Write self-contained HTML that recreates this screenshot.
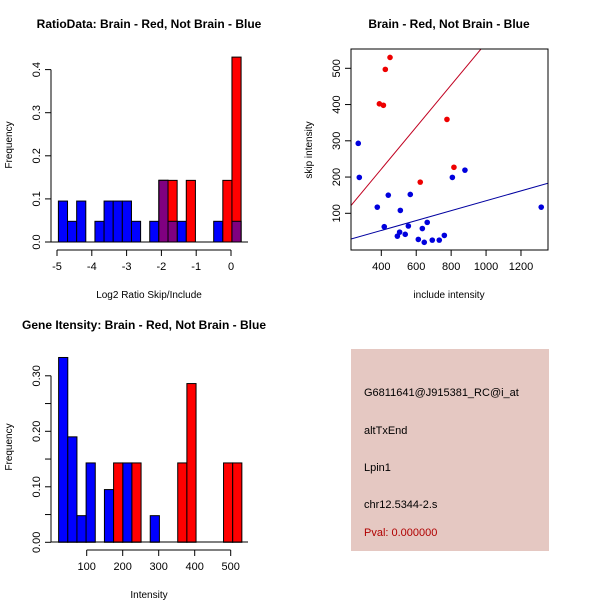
<!DOCTYPE html>
<html><head><meta charset="utf-8"><style>
html,body{margin:0;padding:0;background:#fff;}
svg{display:block;font-family:"Liberation Sans",sans-serif;}
</style></head><body>
<svg id="s" width="600" height="600" xmlns="http://www.w3.org/2000/svg">
<rect width="600" height="600" fill="#fff"/>
<g id="p1"></g>
<g id="p2"></g>
<g id="p3"></g>
<g id="p4">
<rect x="351" y="349" width="198" height="202" fill="#e5c8c2"/>
<text x="364" y="396" font-size="11">G6811641@J915381_RC@i_at</text>
<text x="364" y="434" font-size="11">altTxEnd</text>
<text x="364" y="471" font-size="11">Lpin1</text>
<text x="364" y="508" font-size="11">chr12.5344-2.s</text>
<text x="364" y="536" font-size="11" fill="#b00000">Pval: 0.000000</text>
</g>
</svg>
<script>
// ---- Plot 1 data: ratio histogram ----
const ratioBinStart = -4.96;
const ratioBinWidth = 0.2625;
const ratioBlue = [0.095,0.048,0.095,0,0.048,0.095,0.095,0.095,0.048,0,0.048,0.143,0.048,0.048,0,0,0,0.048,0,0.048];
const ratioRed  = [0,0,0,0,0,0,0,0,0,0,0,0.143,0.143,0,0.143,0,0,0,0.143,0.429];
const ratioXTicks = [-5,-4,-3,-2,-1,0];
const ratioYTicks = [0,0.1,0.2,0.3,0.4];
const ratioYLabels = ["0.0","0.1","0.2","0.3","0.4"];

// ---- Plot 2 data: scatter ----
const redInclude = [450,423,389,412,776,816,623];
const redSkip    = [530,497,402,398,359,227,186];
const blueInclude = [268,274,377,440,417,509,566,555,492,505,537,612,646,635,663,692,732,761,807,879,1316];
const blueSkip    = [293,199,117,150,63,108,152,65,37,48,42,28,20,58,75,26,26,39,199,219,117];
const redFit = [-10,0.58];
const blueFit = [-2,0.1365];
const scXTicks = [400,600,800,1000,1200];
const scYTicks = [100,200,300,400,500];

// ---- Plot 3 data: intensity histogram ----
const intBinStart = 22;
const intBinWidth = 25.45;
const intBlue = [0.333,0.19,0.048,0.143,0,0.095,0,0.143,0,0,0.048,0,0,0,0,0,0,0,0,0];
const intRed  = [0,0,0,0,0,0,0.143,0,0.143,0,0,0,0,0.143,0.286,0,0,0,0.143,0.143];
const intXTicks = [100,200,300,400,500];
const intYTicks = [0,0.05,0.1,0.15,0.2,0.25,0.3];
const intYLabels = ["0.00","","0.10","","0.20","","0.30"];

const NS="http://www.w3.org/2000/svg";
function mk(parent,tag,attrs,text){const e=document.createElementNS(NS,tag);for(const k in attrs)e.setAttribute(k,attrs[k]);if(text!==undefined)e.textContent=text;parent.appendChild(e);return e;}

function axisLeft(g,x,ticks,labels,sy,fmt){
  const yb=sy(ticks[0]),yt=sy(ticks[ticks.length-1]);
  const l=mk(g,'line',{x1:x,y1:yb,x2:x,y2:yt,stroke:'#000'});
  
  
  ticks.forEach((t,i)=>{
    const y=sy(t);
    const tk=mk(g,'line',{x1:x-6,y1:y,x2:x,y2:y,stroke:'#000'});
    
    
    const lab=labels?labels[i]:String(t);
    if(lab){
      const tx=mk(g,'text',{x:x-11,y:y,'font-size':11,'text-anchor':'middle',transform:`rotate(-90 ${x-11} ${y})`},lab);
      
      
    }
  });
}
function axisBottom(g,y,ticks,sx){
  const l=mk(g,'line',{x1:sx(ticks[0]),y1:y,x2:sx(ticks[ticks.length-1]),y2:y,stroke:'#000'});
  
  
  ticks.forEach(t=>{
    const x=sx(t);
    const tk=mk(g,'line',{x1:x,y1:y,x2:x,y2:y+6,stroke:'#000'});
    
    
    const tx=mk(g,'text',{x:x,y:y+20,'font-size':11,'text-anchor':'middle'},String(t));
    
    
  });
}
function label(g,x,y,txt,name,opts){
  const a=Object.assign({x:x,y:y,'font-size':11,'text-anchor':'middle'},opts||{});
  const t=mk(g,'text',a,txt);
  
  
}
function bars(g,start,w,vals,color,sx,sy,name){
  vals.forEach((v,i)=>{
    if(v<=0)return;
    const x0=sx(start+i*w),x1=sx(start+(i+1)*w),y0=sy(0),y1=sy(v);
    const r=mk(g,'rect',{x:x0,y:y1,width:x1-x0,height:y0-y1,fill:color,stroke:'#000','stroke-width':1});
    
    
  });
}

// Plot 1
(function(){
  const g=document.getElementById('p1');
  const sx=v=>57+(v+5)*34.8, sy=v=>242-v*431;
  bars(g,ratioBinStart,ratioBinWidth,ratioBlue,'#0000ff',sx,sy,'bar-not-brain');
  bars(g,ratioBinStart,ratioBinWidth,ratioRed,'#ff0000',sx,sy,'bar-brain');
  // overlap
  ratioBlue.forEach((b,i)=>{
    const o=Math.min(b,ratioRed[i]);
    if(o<=0)return;
    const x0=sx(ratioBinStart+i*ratioBinWidth),x1=sx(ratioBinStart+(i+1)*ratioBinWidth);
    const r=mk(g,'rect',{x:x0,y:sy(o),width:x1-x0,height:sy(0)-sy(o),fill:'#800080',stroke:'#000'});
    
    
  });
  const bl=mk(g,'line',{x1:51,y1:242,x2:248,y2:242,stroke:'#000'});
  
  
  axisLeft(g,51,ratioYTicks,ratioYLabels,sy);
  axisBottom(g,250,ratioXTicks,sx);
  label(g,149,28,'RatioData: Brain - Red, Not Brain - Blue','plot-title',{'font-weight':'bold','font-size':12});
  label(g,149,298,'Log2 Ratio Skip/Include','x-axis-title',{'font-size':10});
  label(g,12,145,'Frequency','y-axis-title',{'font-size':10,transform:'rotate(-90 12 145)'});
})();

// Plot 2
(function(){
  const g=document.getElementById('p2');
  const X0=351,X1=548,Y0=250,Y1=49;
  const sx=v=>381.3+(v-400)*0.1746, sy=v=>213.3-(v-100)*0.3625;
  const cp=mk(g,'clipPath',{id:'clip2'});
  mk(cp,'rect',{x:X0,y:Y1,width:X1-X0,height:Y0-Y1});
  const xmin=(X0-381.3)/0.1746+400, xmax=(X1-381.3)/0.1746+400;
  [[redFit,'#c00020','fit-line-brain'],[blueFit,'#0000a0','fit-line-not-brain']].forEach(([f,c,n])=>{
    const l=mk(g,'line',{x1:sx(xmin),y1:sy(f[0]+f[1]*xmin),x2:sx(xmax),y2:sy(f[0]+f[1]*xmax),stroke:c,'stroke-width':1,'clip-path':'url(#clip2)'});
    
    
  });
  blueInclude.forEach((v,i)=>{
    const c=mk(g,'circle',{cx:sx(v),cy:sy(blueSkip[i]),r:2.8,fill:'#0000dd'});
    
    
  });
  redInclude.forEach((v,i)=>{
    const c=mk(g,'circle',{cx:sx(v),cy:sy(redSkip[i]),r:2.8,fill:'#ee0000'});
    
    
  });
  const box=mk(g,'rect',{x:X0,y:Y1,width:X1-X0,height:Y0-Y1,fill:'none',stroke:'#000'});
  
  
  scXTicks.forEach(t=>{
    const x=sx(t);
    const tk=mk(g,'line',{x1:x,y1:Y0,x2:x,y2:Y0+6,stroke:'#000'});
    
    
    label(g,x,Y0+20,String(t),'x-tick-label');
  });
  scYTicks.forEach(t=>{
    const y=sy(t);
    const tk=mk(g,'line',{x1:X0-6,y1:y,x2:X0,y2:y,stroke:'#000'});
    
    
    label(g,X0-11,y,String(t),'y-tick-label',{transform:`rotate(-90 ${X0-11} ${y})`});
  });
  label(g,449,28,'Brain - Red, Not Brain - Blue','plot-title',{'font-weight':'bold','font-size':12});
  label(g,449,298,'include intensity','x-axis-title',{'font-size':10});
  label(g,312,150,'skip intensity','y-axis-title',{'font-size':10,transform:'rotate(-90 312 150)'});
})();

// Plot 3
(function(){
  const g=document.getElementById('p3');
  const sx=v=>86.7+(v-100)*0.36, sy=v=>542.3-v*555;
  bars(g,intBinStart,intBinWidth,intBlue,'#0000ff',sx,sy,'bar-not-brain');
  bars(g,intBinStart,intBinWidth,intRed,'#ff0000',sx,sy,'bar-brain');
  const bl=mk(g,'line',{x1:51,y1:542,x2:248,y2:542,stroke:'#000'});
  
  
  axisLeft(g,51,intYTicks,intYLabels,sy);
  axisBottom(g,550,intXTicks,sx);
  label(g,144,329,'Gene Itensity: Brain - Red, Not Brain - Blue','plot-title',{'font-weight':'bold','font-size':12});
  label(g,149,598,'Intensity','x-axis-title',{'font-size':10});
  label(g,12,447,'Frequency','y-axis-title',{'font-size':10,transform:'rotate(-90 12 447)'});
})();
</script>
</body></html>
